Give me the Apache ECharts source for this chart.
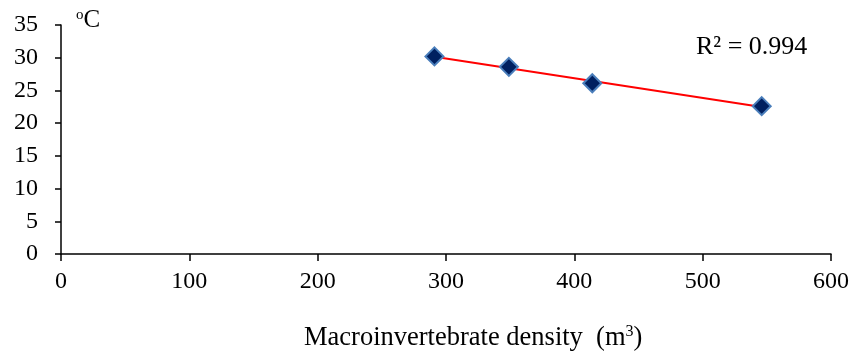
<!DOCTYPE html>
<html lang="en">
<head>
  <meta charset="utf-8"/>
  <script src="https://cdn.jsdelivr.net/npm/echarts@6/dist/echarts.min.js"></script>
  <style>
    html, body { margin: 0; padding: 0; background: #fff; }
    #chart { width: 855px; height: 352px; }
  </style>
</head>
<body>
<div id="chart"></div>
<script>
  // density (m3) vs temperature (oC)
  var density = [291, 349, 414, 546];
  var temperature = [30.2, 28.6, 26.1, 22.6];
  var xTicks = [0, 100, 200, 300, 400, 500, 600];
  var yTicks = [0, 5, 10, 15, 20, 25, 30, 35];
  var r2Label = 'R² = 0.994';

  var points = density.map(function (d, i) { return [d, temperature[i]]; });

  // least squares fit for the trend line
  var n = density.length, mx = 0, my = 0;
  for (var i = 0; i < n; i++) { mx += density[i] / n; my += temperature[i] / n; }
  var sxy = 0, sxx = 0;
  for (var i = 0; i < n; i++) {
    sxy += (density[i] - mx) * (temperature[i] - my);
    sxx += (density[i] - mx) * (density[i] - mx);
  }
  var slope = sxy / sxx, icpt = my - slope * mx;
  var xmin = Math.min.apply(null, density), xmax = Math.max.apply(null, density);
  var trend = [[xmin, icpt + slope * xmin], [xmax, icpt + slope * xmax]];

  var font = '"Liberation Serif", "Times New Roman", serif';
  var chart = echarts.init(document.getElementById('chart'));
  chart.setOption({
    animation: false,
    textStyle: { fontFamily: font },
    grid: { left: 61, right: 24, top: 25, bottom: 98 },
    xAxis: {
      type: 'value', min: xTicks[0], max: xTicks[xTicks.length - 1], interval: 100,
      splitLine: { show: false },
      axisLine: { lineStyle: { color: '#000', width: 1.5 } },
      axisTick: { lineStyle: { color: '#000', width: 1.5 }, length: 7 },
      axisLabel: { color: '#000', fontSize: 24, fontFamily: font, margin: 16 }
    },
    yAxis: {
      type: 'value', min: yTicks[0], max: yTicks[yTicks.length - 1], interval: 5,
      splitLine: { show: false },
      axisLine: { show: true, lineStyle: { color: '#000', width: 1.5 } },
      axisTick: { show: true, lineStyle: { color: '#000', width: 1.5 }, length: 6 },
      axisLabel: { color: '#000', fontSize: 24, fontFamily: font, margin: 23 }
    },
    graphic: [
      {
        type: 'text', left: 76, top: 8,
        style: {
          text: '{s|o}C', fill: '#000', font: '25px ' + font,
          rich: { s: { fontSize: 15, fontFamily: font, fill: '#000', padding: [0, 0, 10, 0] } }
        }
      },
      {
        type: 'text', left: 696, top: 34,
        style: { text: r2Label, fill: '#000', font: '26px ' + font }
      },
      {
        type: 'text', left: 304, top: 324,
        style: {
          text: 'Macroinvertebrate density  (m{s|3})', fill: '#000', font: '26.5px ' + font,
          rich: { s: { fontSize: 16, fontFamily: font, fill: '#000', padding: [0, 0, 12, 0] } }
        }
      }
    ],
    series: [
      {
        type: 'line', data: trend, symbol: 'none', silent: true,
        lineStyle: { color: '#ff0000', width: 2 }, z: 2
      },
      {
        type: 'scatter', data: points, symbol: 'diamond', symbolSize: 18,
        itemStyle: { color: '#002060', borderColor: '#4a7ebb', borderWidth: 2, opacity: 1 },
        z: 3
      }
    ]
  });
</script>
</body>
</html>
